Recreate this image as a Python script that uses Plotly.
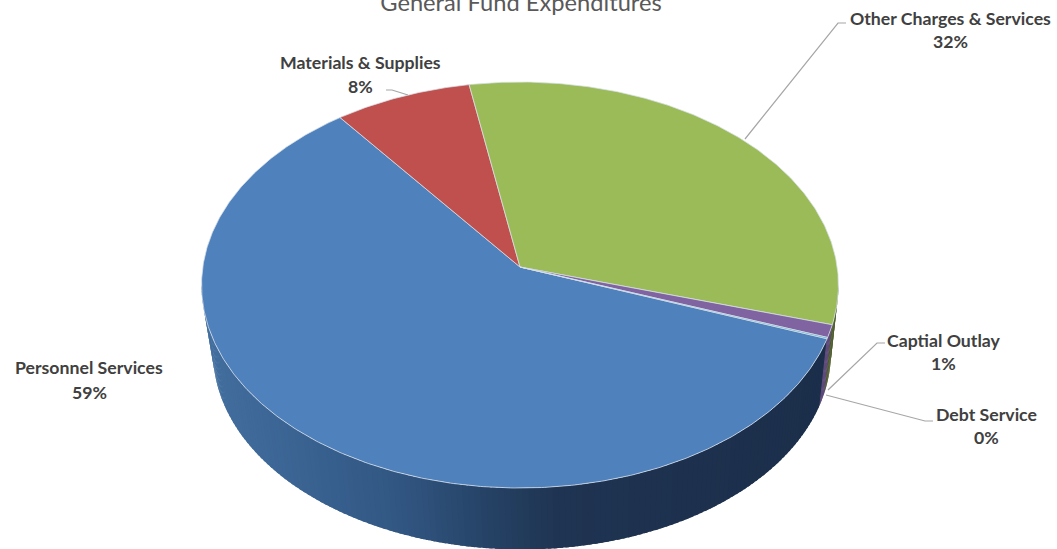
import numpy as np
import plotly.graph_objects as go

# Budget shares, in percent of general fund spending
categories = ["Personnel Services", "Materials & Supplies", "Other Charges & Services",
              "Captial Outlay", "Debt Service"]
shares = [59.0, 7.6, 32.3, 1.0, 0.1]
top_colors = ["#4f81bd", "#c0504d", "#9bbb59", "#8064a2", "#4bacc6"]
side_colors = ["#1e3350", "#4a1f1e", "#4b5a2a", "#5e4a7a", "#24525f"]

# Label placement: centre x, name line y, percent line y
label_x = [89, 360, 950, 943, 986]
name_y = [367, 62, 18, 340, 414]
pct_y = [392, 86, 41, 363, 437]

# Leader lines drawn as (slice-side point, elbow, label-side point)
leaders = {
    1: [(408, 95), (392, 90), (386, 90)],
    2: [(745, 139), (838, 23), (846, 23)],
    3: [(828, 390), (877, 343), (885, 343)],
    4: [(826, 395), (925, 421), (933, 421)],
}

# Projection of the tilted disc: clockwise angle from twelve o'clock to page pixels
FIRST_ANGLE = 110.2
TILT = 0.0887
TOP_DISC = dict(cx=520.0, cy=267.0, a=317.2, b=201.4)
BASE_DISC = dict(cx=522.0, cy=335.0, a=307.7, b=195.4)


def project(theta_deg, disc):
    t = np.radians(theta_deg)
    u, v = np.sin(t), np.cos(t)
    w = 1 + TILT * v
    return disc["cx"] + disc["a"] * u / w, disc["cy"] - disc["b"] * v / w


def side_shade(x):
    # Rim lighting fades from the left edge into deep navy past the middle
    stops_x = [205, 300, 400, 500, 560, 840]
    stops_rgb = np.array([[66, 110, 158], [58, 99, 146], [49, 86, 130],
                          [36, 64, 98], [31, 52, 82], [27, 46, 74]])
    return "rgb({:.0f},{:.0f},{:.0f})".format(*[np.interp(x, stops_x, stops_rgb[:, i]) for i in range(3)])


totals = np.cumsum([0] + shares)
starts = FIRST_ANGLE + totals[:-1] / totals[-1] * 360
ends = FIRST_ANGLE + totals[1:] / totals[-1] * 360

fig = go.Figure()

# Rim: overlapping strips between the top disc and the base disc along the front edge
RIM_FROM, RIM_TO = 95.0, 265.0
STEP = 1.0
edges = np.arange(RIM_FROM, RIM_TO - STEP + 0.01, STEP)
for a0 in edges[::-1]:
    a1 = a0 + STEP * 1.6
    mid = a0 + STEP / 2
    idx = next((i for i, (s, e) in enumerate(zip(starts, ends))
                if s <= mid < e or s <= mid + 360 < e), 0)
    arc = np.linspace(a0, min(a1, RIM_TO), 3)
    xt, yt = project(arc, TOP_DISC)
    xb, yb = project(arc[::-1], BASE_DISC)
    color = side_shade(xt.mean()) if idx == 0 else side_colors[idx]
    fig.add_trace(go.Scatter(
        x=np.concatenate([xt, xb, xt[:1]]), y=np.concatenate([yt, yb, yt[:1]]),
        mode="none", fill="toself", fillcolor=color,
        hoverinfo="skip", showlegend=False))

# Top face: one wedge per category, converging on the projected pie centre
for name, value, color, s, e in zip(categories, shares, top_colors, starts, ends):
    angles = np.linspace(s, e, max(3, int((e - s) * 2)))
    ax, ay = project(angles, TOP_DISC)
    xs = np.concatenate([[TOP_DISC["cx"]], ax, [TOP_DISC["cx"]]])
    ys = np.concatenate([[TOP_DISC["cy"]], ay, [TOP_DISC["cy"]]])
    fig.add_trace(go.Scatter(
        x=xs, y=ys, mode="lines", fill="toself", fillcolor=color,
        line=dict(color="rgba(216,224,234,0.75)", width=1),
        name=name, text=f"{name}: {value}%", hoverinfo="text", showlegend=False))

for pts in leaders.values():
    fig.add_trace(go.Scatter(
        x=[p[0] for p in pts], y=[p[1] for p in pts], mode="lines",
        line=dict(color="#a6a6a6", width=1.2), hoverinfo="skip", showlegend=False))

font = dict(family="Lato, Carlito, sans-serif", size=17.7, color="#404040")
annotations = []
for name, value, x, y1, y2 in zip(categories, shares, label_x, name_y, pct_y):
    for text, y in ((name, y1), (f"{round(value)}%", y2)):
        annotations.append(dict(x=x, y=y, xref="x", yref="y", text=f"<b>{text}</b>",
                                showarrow=False, font=font, xanchor="center", yanchor="middle"))

fig.update_layout(
    width=1057, height=549,
    margin=dict(l=0, r=0, t=0, b=0),
    paper_bgcolor="white", plot_bgcolor="white",
    title=dict(text="General Fund Expenditures", x=521 / 1057, xanchor="center",
               y=0.995, yref="container", yanchor="middle",
               font=dict(family="Lato, Carlito, sans-serif", size=23.7, color="#595959")),
    xaxis=dict(range=[0, 1057], visible=False, fixedrange=True),
    yaxis=dict(range=[549, 0], visible=False, fixedrange=True),
    annotations=annotations,
)

fig.write_html("out.html", config={"displayModeBar": False})
